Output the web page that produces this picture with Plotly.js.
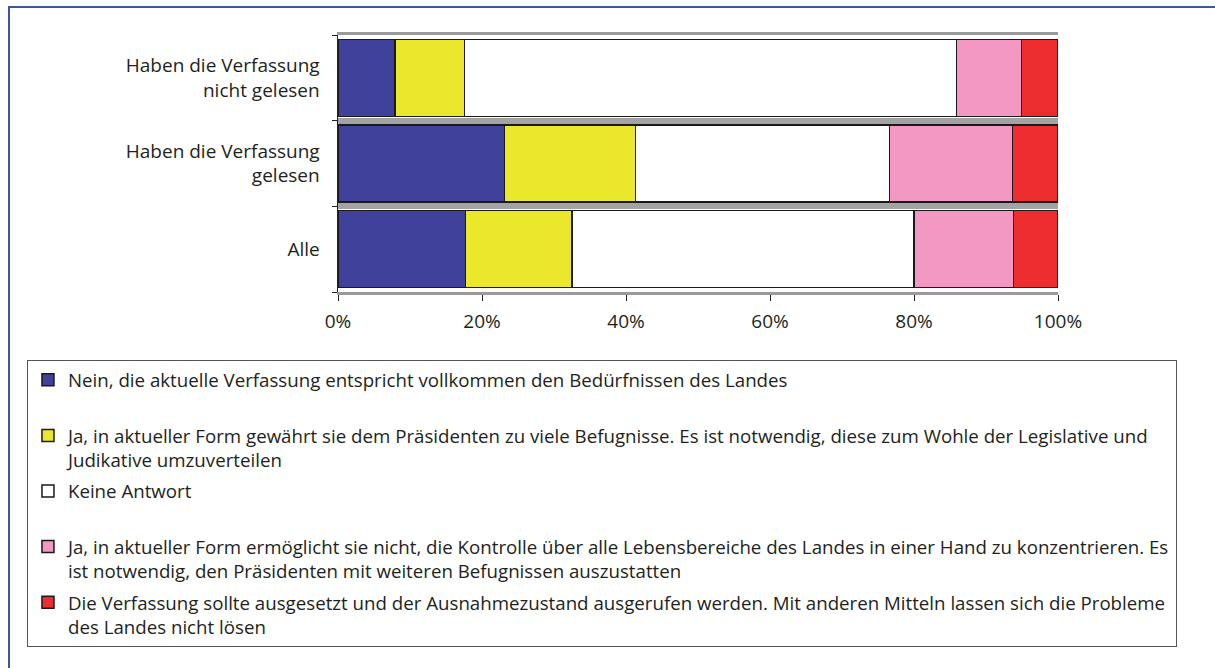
<!DOCTYPE html>
<html>
<head>
<meta charset="utf-8">
<script src="https://cdn.plot.ly/plotly-3.0.1.min.js"></script>
<style>
	body { margin: 0; background: #fff; }
	#graph { width: 1215px; height: 668px; }
	#frame { position: absolute; left: 8px; top: 6px; right: 0; bottom: 0; border-top: 2px solid #3b56a6; border-left: 2px solid #3b56a6; pointer-events: none; }
</style>
</head>
<body>
<div id="graph"></div>
<div id="frame"></div>
<script>
// categories, bottom to top like in the chart
var categories = ['Alle', 'Haben die Verfassung<br>gelesen', 'Haben die Verfassung<br>nicht gelesen'];

var seriesNames = [
	'Nein, die aktuelle Verfassung entspricht vollkommen den Bedürfnissen des Landes<br> ',
	'Ja, in aktueller Form gewährt sie dem Präsidenten zu viele Befugnisse. Es ist notwendig, diese zum Wohle der Legislative und<br>Judikative umzuverteilen',
	'Keine Antwort<br> ',
	'Ja, in aktueller Form ermöglicht sie nicht, die Kontrolle über alle Lebensbereiche des Landes in einer Hand zu konzentrieren. Es<br>ist notwendig, den Präsidenten mit weiteren Befugnissen auszustatten',
	'Die Verfassung sollte ausgesetzt und der Ausnahmezustand ausgerufen werden. Mit anderen Mitteln lassen sich die Probleme<br>des Landes nicht lösen'
];

var nein = [17.7, 23.1, 7.9];
var jaZuViele = [14.8, 18.2, 9.7];
var keineAntwort = [47.5, 35.3, 68.3];
var jaZuWenig = [13.8, 17.1, 9.0];
var ausnahmezustand = [6.2, 6.3, 5.1];

var xTicks = [0, 20, 40, 60, 80, 100];

var colors = ['#3f419a', '#ebe72a', '#ffffff', '#f298c2', '#ee2e2e'];
var values = [nein, jaZuViele, keineAntwort, jaZuWenig, ausnahmezustand];

var data = [];
for (var i = 0; i < values.length; i++) {
	data.push({
		type: 'bar',
		orientation: 'h',
		y: categories,
		x: values[i],
		name: seriesNames[i],
		legendgroup: 'g' + i,
		marker: {
			color: colors[i],
			line: { color: '#1a1a1a', width: 1.5 }
		},
		hoverinfo: 'x+name'
	});
}

var layout = {
	width: 1215,
	height: 668,
	barmode: 'stack',
	bargap: 0.1,
	paper_bgcolor: 'rgba(0,0,0,0)',
	plot_bgcolor: 'rgba(0,0,0,0)',
	font: { family: 'Open Sans, sans-serif', size: 19, color: '#231f20' },
	margin: { l: 338, r: 157, t: 35, b: 376 },
	showlegend: true,
	legend: {
		x: -0.432,
		xanchor: 'left',
		y: -0.265,
		yanchor: 'top',
		traceorder: 'grouped',
		tracegroupgap: 4,
		valign: 'top',
		bgcolor: '#ffffff',
		bordercolor: '#555555',
		borderwidth: 1,
		font: { size: 18.7, color: '#231f20' }
	},
	xaxis: {
		range: [0, 100],
		tickvals: xTicks,
		ticktext: xTicks.map(function (v) { return v + '%'; }),
		ticks: 'outside',
		ticklen: 6,
		tickcolor: '#222',
		ticklabelstandoff: 4,
		showgrid: false,
		zeroline: false,
		showline: true,
		mirror: true,
		linecolor: '#9a9a9a',
		linewidth: 3,
		fixedrange: true
	},
	yaxis: {
		type: 'category',
		tickson: 'boundaries',
		ticks: 'outside',
		ticklen: 5,
		tickcolor: '#222',
		ticklabelstandoff: 13,
		showgrid: true,
		gridcolor: '#a3a3a3',
		gridwidth: 6,
		zeroline: false,
		showline: true,
		linecolor: '#222',
		linewidth: 1.5,
		fixedrange: true
	}
};

Plotly.newPlot('graph', data, layout, { displayModeBar: false, staticPlot: true });
</script>
</body>
</html>
